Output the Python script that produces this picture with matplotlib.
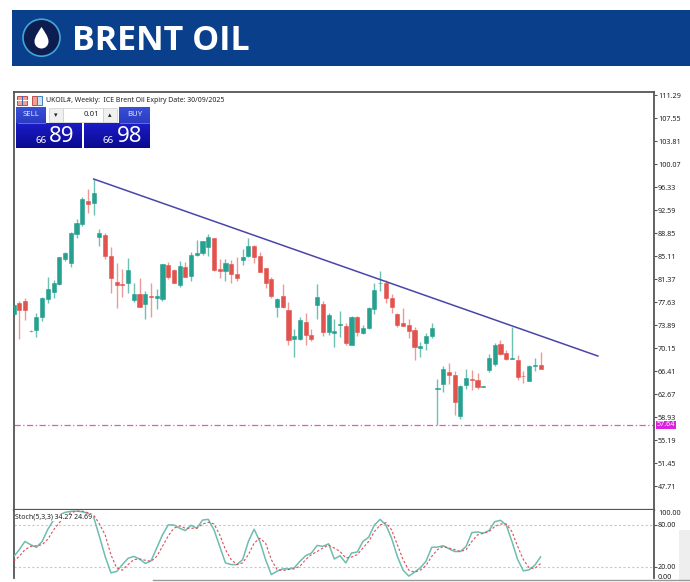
import numpy as np
import matplotlib
matplotlib.use('Agg')
import matplotlib.pyplot as plt
from matplotlib.patches import Rectangle, Circle, PathPatch
from matplotlib.path import Path

# weekly candles
opens = [75.68, 77.52, 77.74, 72.97, 73.08, 75.14, 78.12, 79.31, 80.56, 84.62,
         83.97, 88.69, 90.32, 94.05, 93.67, 88.25, 88.53, 85.17, 80.88, 80.56,
         80.72, 78.01, 78.88, 77.31, 78.55, 78.28, 78.12, 83.7, 82.78, 80.4,
         83.27, 81.91, 85.22, 85.65, 86.63, 88.04, 83.0, 82.73, 83.81, 82.13,
         84.46, 85.11, 86.79, 85.11, 83.1, 81.32, 76.87, 78.61, 76.33, 71.6,
         71.67, 74.43, 72.21, 77.09, 77.3, 72.75, 72.54, 73.95, 73.73, 70.7,
         75.19, 72.54, 73.4, 76.55, 80.67, 80.77, 78.28, 75.73, 74.22, 73.84,
         73.02, 70.2, 70.91, 72.16, 63.43, 64.24, 66.3, 65.76, 59.09, 64.08,
         65.11, 65.0, 63.87, 66.52, 67.5, 70.8, 69.28, 68.36, 68.15, 65.65,
         64.78, 67.28, 67.39]
closes = [77.14, 76.28, 76.33, 72.86, 75.25, 78.28, 79.8, 80.72, 84.95, 85.55,
          88.9, 90.42, 94.33, 93.57, 95.3, 88.8, 85.17, 81.48, 80.45, 80.45,
          82.9, 78.99, 76.87, 78.88, 78.39, 78.66, 83.81, 81.75, 80.78, 83.43,
          81.75, 85.27, 85.55, 87.5, 88.15, 82.84, 82.73, 83.92, 82.13, 81.48,
          85.0, 86.79, 84.9, 82.57, 80.67, 78.61, 78.17, 76.87, 71.45, 72.05,
          74.7, 72.27, 71.67, 78.39, 72.81, 75.52, 72.92, 74.06, 71.02, 75.19,
          72.75, 73.4, 76.71, 79.58, 80.77, 78.34, 76.76, 73.9, 73.78, 72.97,
          70.37, 70.48, 72.1, 73.4, 63.59, 66.74, 65.76, 61.32, 63.97, 65.27,
          64.95, 63.81, 63.92, 68.47, 70.64, 69.18, 68.31, 68.47, 65.38, 65.54,
          67.22, 67.44, 66.79]
highs = [77.3, 77.85, 78.23, 73.03, 75.79, 78.5, 81.75, 81.2, 85.0, 85.8,
         88.96, 91.18, 94.65, 96.0, 97.63, 89.56, 88.8, 86.52, 84.03, 82.94,
         84.85, 80.67, 81.48, 79.5, 80.77, 79.7, 83.81, 84.14, 82.94, 84.35,
         84.14, 85.7, 87.71, 87.6, 88.63, 88.1, 84.57, 84.57, 84.46, 85.0,
         86.2, 87.98, 86.85, 85.82, 83.2, 81.64, 78.34, 80.5, 77.58, 73.3,
         75.14, 75.84, 73.19, 80.5, 77.85, 75.9, 74.92, 76.22, 74.16, 75.36,
         75.36, 73.95, 76.76, 80.67, 82.62, 81.2, 78.93, 75.79, 76.66, 74.8,
         73.5, 71.18, 72.65, 74.16, 65.11, 67.22, 67.66, 66.36, 64.19, 66.68,
         66.57, 66.14, 64.03, 69.18, 70.91, 71.45, 69.83, 73.62, 69.01, 66.41,
         67.38, 68.47, 69.44]
lows = [75.5, 71.56, 74.71, 72.8, 72.0, 74.6, 77.4, 78.23, 80.4, 84.35,
        83.27, 88.1, 90.0, 92.16, 91.83, 86.8, 84.57, 79.15, 76.6, 78.39,
        79.04, 77.58, 76.76, 74.8, 75.25, 76.5, 77.85, 81.3, 80.67, 80.13,
        81.64, 81.1, 85.11, 85.22, 85.17, 82.73, 81.59, 81.1, 80.67, 81.1,
        83.65, 85.0, 84.03, 82.46, 79.96, 78.34, 75.14, 76.6, 70.59, 68.63,
        71.45, 70.64, 71.29, 74.8, 72.1, 72.27, 70.26, 72.0, 70.7, 70.64,
        72.1, 72.43, 73.3, 75.68, 79.47, 77.52, 75.9, 73.5, 73.73, 71.83,
        68.2, 68.63, 69.83, 71.72, 57.63, 62.94, 64.3, 59.2, 58.61, 63.43,
        63.32, 63.43, 63.81, 66.2, 67.28, 69.07, 68.2, 68.36, 64.95, 64.51,
        64.73, 66.41, 66.74]

stoch_main = [34.2, 44.6, 56.4, 51.7, 47.9, 56.4, 73.9, 87, 94, 98,
              99.5, 99.8, 98.9, 96.5, 91, 63.5, 35, 11.5, 13.4, 23.3,
              32.3, 35, 31.3, 25, 28.5, 47, 65.8, 80, 80, 75.3,
              72, 79.5, 75.3, 87, 88, 73, 49.3, 25.7, 23.3, 23.3,
              30.4, 56.4, 73.9, 56.4, 30.4, 9, 13.9, 17.2, 17.2, 18.6,
              28, 36, 39.8, 50.7, 49.3, 53, 31.3, 36, 25.7, 39.8,
              41.3, 56.4, 62.5, 80, 88, 80, 61, 35, 15.3, 6.8,
              12.4, 18.6, 28, 47.9, 48.4, 50.2, 46, 42, 42, 49.3,
              69, 70, 68.2, 72, 84.7, 86.6, 80, 56.4, 30.4, 14.3,
              15.8, 22.4, 34.27]
stoch_signal = [28, 35, 44.6, 49.3, 50.2, 51.7, 59.7, 73, 83.3, 91.8,
                97.5, 99.8, 99.8, 97.5, 94.2, 81.4, 65.8, 37.5, 18.6, 15.3,
                23.3, 30.4, 31.3, 29.5, 28, 35, 49.3, 64.4, 75.3, 78.6,
                75.3, 75.3, 75.3, 81.4, 83.8, 81.4, 65.8, 44.6, 30.4, 23.3,
                25.7, 37.5, 54, 61, 54, 30.4, 16.2, 14.8, 16.2, 17.2,
                21, 30.4, 37.5, 42, 47, 51, 47, 42, 32.8, 34,
                37.5, 47, 56.4, 70.5, 80, 83.3, 73, 51.7, 30.4, 15.3,
                12.4, 15.3, 22, 35, 44.6, 49.3, 47, 44.6, 42, 44.6,
                56.4, 65.8, 68.2, 70.5, 77.6, 81.4, 81.4, 70.5, 49.3, 30.4,
                18.6, 17.7, 24.69]

price_ticks = [111.29, 107.55, 103.81, 100.07, 96.33, 92.59, 88.85, 85.11, 81.37,
               77.63, 73.89, 70.15, 66.41, 62.67, 58.93, 55.19, 51.45, 47.71]
trend_x = [14, 102]
trend_y = [97.63, 68.85]
support = 57.64

W, H = 690, 582
TEAL = '#26a08f'
RED = '#e2534e'
FRAME = '#555555'
FONT = ['Noto Sans', 'DejaVu Sans']
TXT = '#222222'
TICK_SIZE = 5.2

plt.rcParams['font.family'] = FONT


def add_axes_px(x0, y0, x1, y1):
    return fig.add_axes([x0 / W, 1 - y1 / H, (x1 - x0) / W, (y1 - y0) / H])


def blue_box(x0, y0, x1, y1, top, bottom):
    grad = np.linspace(0, 1, 32).reshape(-1, 1)
    cmap = matplotlib.colors.LinearSegmentedColormap.from_list('b', [top, bottom])
    deco.imshow(grad, extent=(x0, x1, y1, y0), cmap=cmap, aspect='auto', zorder=5)


fig = plt.figure(figsize=(W / 100, H / 100), dpi=100, facecolor='white')

# price pane
ax = add_axes_px(13.5, 92, 654, 510)
x = np.arange(len(opens))
colors = [TEAL if c >= o else RED for o, c in zip(opens, closes)]
wick_colors = ['#6fbfb3' if c >= o else '#eb9a96' for o, c in zip(opens, closes)]
ax.vlines(x, lows, highs, colors=wick_colors, lw=1.0, zorder=2)
body_low = np.minimum(opens, closes)
body_h = np.abs(np.array(opens) - np.array(closes))
ax.bar(x, body_h, bottom=body_low, width=0.72, color=colors, edgecolor=colors, lw=0.4, zorder=3)
ax.plot(trend_x, trend_y, color='#4a45a8', lw=1.1, zorder=4)
ax.axhline(support, color='#dc5cc8', lw=0.9, ls=(0, (5, 2, 1, 2)), zorder=1)
ax.set_xlim(0, 111.8)
ax.set_ylim(43.81, 111.78)
ax.set_xticks([])
ax.yaxis.tick_right()
ax.set_yticks(price_ticks)
ax.set_yticklabels(['%.2f' % v for v in price_ticks], fontsize=TICK_SIZE, color=TXT)
ax.tick_params(axis='y', length=2.2, width=0.8, color=FRAME, pad=0.6)
ax.text(1.0045, support, '%.2f' % support, transform=ax.get_yaxis_transform(), fontsize=TICK_SIZE,
        color='white', va='center', ha='left', zorder=6,
        bbox=dict(boxstyle='square,pad=0.12', fc='#e020e0', ec='none'), clip_on=False)
for side in ax.spines:
    ax.spines[side].set_color(FRAME)
    ax.spines[side].set_linewidth(1.3)
ax.spines['bottom'].set_linewidth(1.6)

# stochastic pane
ax2 = add_axes_px(13.5, 510, 654, 577.5)
ax2.plot(x, stoch_main, color='#6dbdb0', lw=1.1, zorder=3)
ax2.plot(x, stoch_signal, color='#d8505a', lw=0.8, ls=(0, (2.2, 1.8)), zorder=4)
ax2.axhline(80, color='#c8c8c8', lw=0.8, ls=(0, (2, 2)), zorder=1)
ax2.axhline(20, color='#c8c8c8', lw=0.8, ls=(0, (2, 2)), zorder=1)
ax2.set_xlim(0, 111.8)
ax2.set_ylim(4.8, 101.4)
ax2.set_xticks([])
ax2.yaxis.tick_right()
ax2.set_yticks([80, 20])
ax2.set_yticklabels(['80.00', '20.00'], fontsize=TICK_SIZE, color=TXT)
ax2.tick_params(axis='y', length=2.2, width=0.8, color=FRAME, pad=0.6)
ax2.text(1.0062, 0.945, '100.00', transform=ax2.transAxes, fontsize=TICK_SIZE, color=TXT, va='center')
ax2.text(1.0062, 0.0, '0.00', transform=ax2.transAxes, fontsize=TICK_SIZE, color=TXT, va='center')
ax2.text(0.003, 0.89, 'Stoch(5,3,3) 34.27 24.69', transform=ax2.transAxes, fontsize=5, color=TXT,
         va='center', zorder=6, bbox=dict(fc='white', ec='none', pad=0))
for side in ax2.spines:
    ax2.spines[side].set_color(FRAME)
    ax2.spines[side].set_linewidth(1.3)
ax2.spines['top'].set_visible(False)
ax2.spines['bottom'].set_visible(False)

# overlay in pixel coordinates: banner and trade panel
deco = fig.add_axes([0, 0, 1, 1], facecolor='none')
deco.set_xlim(0, W)
deco.set_ylim(H, 0)
deco.axis('off')

deco.add_patch(Rectangle((12, 10), 678, 55.5, fc='#0a3f8c', ec='none', zorder=1))
deco.add_patch(Circle((41.5, 37.7), 18.5, fc='#0e1d4f', ec='#3fa6dc', lw=1.2, zorder=2))
drop = Path([(41.5, 27), (39, 31), (34.5, 36.5), (34.5, 41.5),
             (34.5, 45.5), (37.5, 48.5), (41.5, 48.5),
             (45.5, 48.5), (48.5, 45.5), (48.5, 41.5),
             (48.5, 36.5), (44, 31), (41.5, 27)],
            [Path.MOVETO] + [Path.CURVE4] * 12)
deco.add_patch(PathPatch(drop, fc='white', ec='none', zorder=3))
deco.text(72, 40.5, 'BRENT OIL', color='white', fontsize=24.5, fontweight='bold', va='center', ha='left',
          family=['Open Sans', 'DejaVu Sans'], zorder=3)

deco.text(46, 100, 'UKOIL#, Weekly:  ICE Brent Oil Expiry Date: 30/09/2025', fontsize=5, color=TXT,
          va='center', ha='left', zorder=6)
# two small chart icons
deco.add_patch(Rectangle((16.5, 96), 10.5, 8.5, fc='#f0a090', ec='#c05050', lw=0.7, zorder=6))
deco.plot([16.5, 27], [100, 100], color='white', lw=0.7, zorder=7)
deco.plot([21.5, 21.5], [96, 104.5], color='#4060b0', lw=0.7, zorder=7)
deco.add_patch(Rectangle((31.5, 96), 5, 8.5, fc='#f0a090', ec='#c05050', lw=0.7, zorder=6))
deco.add_patch(Rectangle((36.5, 96), 5.5, 8.5, fc='#d0e4f8', ec='#4080c0', lw=0.7, zorder=6))

blue_box(16, 107, 46, 123, '#3a50d8', '#2a3cc0')
blue_box(119, 107, 150, 123, '#3a50d8', '#2a3cc0')
blue_box(16, 123, 82, 148, '#1c1cc8', '#0a0a90')
blue_box(84, 123, 150, 148, '#1c1cc8', '#0a0a90')
deco.text(31, 115, 'SELL', color='#dfe6ff', fontsize=5.6, va='center', ha='center', zorder=7)
deco.text(134.5, 115, 'BUY', color='#dfe6ff', fontsize=5.6, va='center', ha='center', zorder=7)
deco.plot([18, 45], [123, 123], color='#8090e0', lw=0.5, zorder=7)
deco.plot([120, 149], [123, 123], color='#8090e0', lw=0.5, zorder=7)
deco.add_patch(Rectangle((49, 108), 14, 14, fc='#f0f0f0', ec='#cccccc', lw=0.5, zorder=6))
deco.add_patch(Rectangle((63, 108), 40, 14, fc='white', ec='#cccccc', lw=0.5, zorder=6))
deco.add_patch(Rectangle((103, 108), 14, 14, fc='#f0f0f0', ec='#cccccc', lw=0.5, zorder=6))
deco.text(56, 115, '▾', fontsize=5, color='#222222', ha='center', va='center', zorder=7, family='DejaVu Sans')
deco.text(110, 115, '▴', fontsize=5, color='#222222', ha='center', va='center', zorder=7, family='DejaVu Sans')
deco.text(99.5, 115, '0.01', fontsize=5.6, color=TXT, ha='right', va='center', zorder=7)
deco.text(47, 140.5, '66', color='white', fontsize=7, ha='right', va='center', zorder=7)
deco.text(49, 136.5, '89', color='white', fontsize=16, ha='left', va='center', zorder=7)
deco.text(114, 140.5, '66', color='white', fontsize=7, ha='right', va='center', zorder=7)
deco.text(117, 136.5, '98', color='white', fontsize=16, ha='left', va='center', zorder=7)

# bits of the window below the chart
deco.plot([153, 690], [580, 580], color='#999999', lw=1.0, zorder=1)
deco.add_patch(Rectangle((679, 530), 11, 50, fc='#eeeeee', ec='none', zorder=0))

fig.savefig('out.png', dpi=100)
